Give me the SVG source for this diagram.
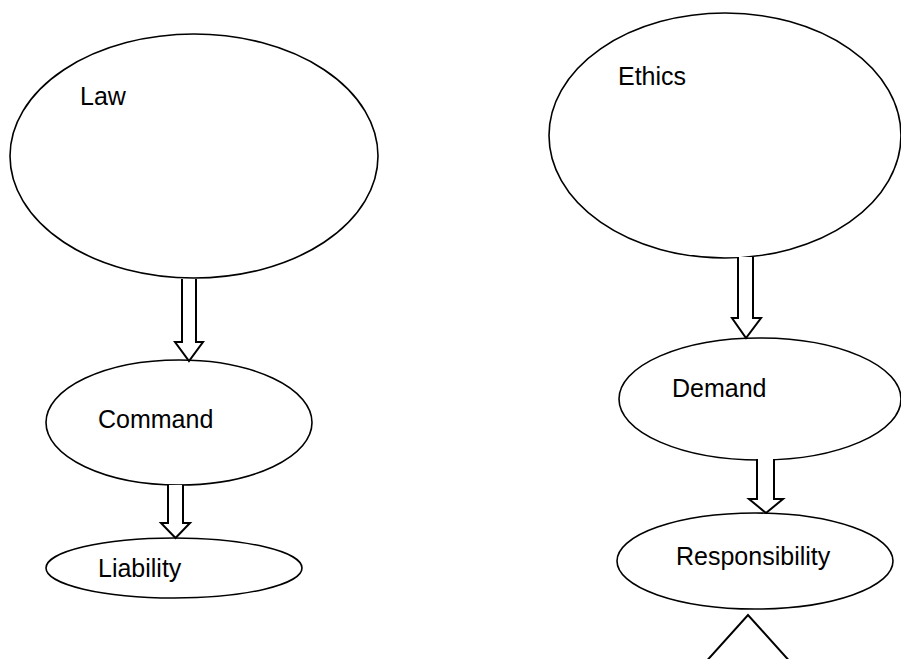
<svg xmlns="http://www.w3.org/2000/svg" width="901" height="659" viewBox="0 0 901 659">
<style>
.node ellipse{fill:#fff;stroke:#000;stroke-width:1.6}
.node text{font-family:"Liberation Sans",Arial,sans-serif;font-size:25px;fill:#000}
.conn path{fill:#fff;stroke:#000;stroke-width:2;stroke-linejoin:miter}
</style>
<rect width="901" height="659" fill="#fff"/>
<g id="law" class="node"><ellipse cx="194" cy="156" rx="184" ry="122"/><text x="80" y="105">Law</text></g>
<g id="command" class="node"><ellipse cx="179" cy="422.5" rx="133" ry="62.5"/><text x="98" y="428">Command</text></g>
<g id="liability" class="node"><ellipse cx="174" cy="568" rx="128" ry="30"/><text x="98" y="577">Liability</text></g>
<g id="ethics" class="node"><ellipse cx="725" cy="135.5" rx="176" ry="122.5"/><text x="618" y="85">Ethics</text></g>
<g id="demand" class="node"><ellipse cx="760" cy="399" rx="141" ry="61"/><text x="672" y="397">Demand</text></g>
<g id="responsibility" class="node"><ellipse cx="755" cy="561" rx="138" ry="48"/><text x="676" y="565">Responsibility</text></g>
<g id="connectors" class="conn">
<path d="M182,279 V342 H175 L189,361 L203,342 H196 V279"/>
<path d="M168,485 V523 H161 L175.5,538 L190,523 H183 V485"/>
<path d="M738,257 V318 H732 L746,338 L761,318 H753 V257"/>
<path d="M757,459 V499 H749 L766,513 L783,499 H774 V459"/>
<path d="M703,665 L748,615 L793,665" fill="none"/>
</g>
</svg>
